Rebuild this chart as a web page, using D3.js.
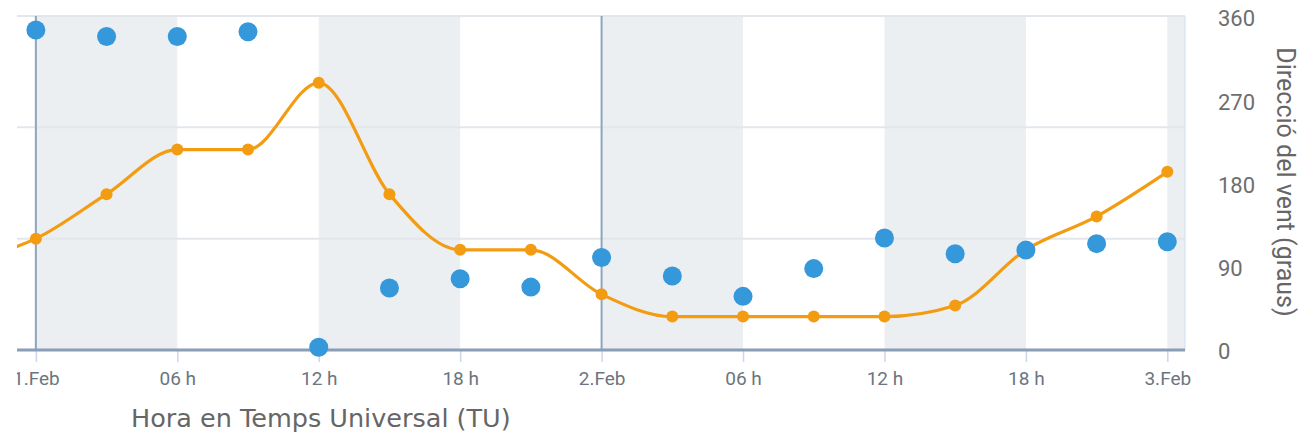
<!DOCTYPE html>
<html>
<head>
<meta charset="utf-8">
<script src="https://cdn.jsdelivr.net/npm/d3@7"></script>
<style>
    body { margin: 0; background: #fff; }
    svg { display: block; }
    .tick-label { font-family: Roboto, sans-serif; font-size: 19px; fill: #6b7580; }
</style>
</head>
<body>
<div id="chart"></div>
<script>
// hores des de l'1 de febrer 00 h (UTC)
const hours = [-3, 0, 3, 6, 9, 12, 15, 18, 21, 24, 27, 30, 33, 36, 39, 42, 45, 48];
// velocitat (eix esquerre ocult, 0-15)
const speed = [4.0, 5, 7, 9, 9, 12, 7, 4.5, 4.5, 2.5, 1.5, 1.5, 1.5, 1.5, 2, 4.5, 6, 8];
// direcció del vent en graus
const direction = [null, 346, 339, 339, 344, 3, 67, 77, 68, 100, 80, 58, 88, 121, 104, 108, 115, 117];
const xTicks = [0, 6, 12, 18, 24, 30, 36, 42, 48];
const xTickLabels = ['1.Feb', '06 h', '12 h', '18 h', '2.Feb', '06 h', '12 h', '18 h', '3.Feb'];
const dirTicks = [0, 90, 180, 270, 360];

const width = 1301, height = 434;
const plotL = 17, plotR = 1185, plotT = 16, plotB = 350;

const svg = d3.select('#chart').append('svg')
    .attr('width', width)
    .attr('height', height);

const x = d3.scaleLinear().domain([-0.8, 48.75]).range([plotL, plotR]);
const ySpeed = d3.scaleLinear().domain([0, 15]).range([plotB, plotT]);
const yDir = d3.scaleLinear().domain([0, 360]).range([plotB, plotT + 1]);

// franges alternes de 6 h
const bands = d3.range(0, 54, 12);
svg.selectAll('rect.band')
    .data(bands)
    .enter()
    .append('rect')
    .attr('x', d => x(d))
    .attr('y', plotT)
    .attr('width', d => Math.min(x(d + 6), plotR) - x(d))
    .attr('height', plotB - plotT)
    .attr('fill', '#ebeff1');

// graella (eix esquerre)
svg.selectAll('line.grid')
    .data([5, 10, 15])
    .enter()
    .append('line')
    .attr('x1', plotL).attr('x2', plotR)
    .attr('y1', d => ySpeed(d)).attr('y2', d => ySpeed(d))
    .attr('stroke', '#e3e7ec')
    .attr('stroke-width', 2);

// línies de canvi de dia
svg.selectAll('line.day')
    .data([0, 24])
    .enter()
    .append('line')
    .attr('x1', d => x(d)).attr('x2', d => x(d))
    .attr('y1', plotT).attr('y2', plotB)
    .attr('stroke', '#8fa4bf')
    .attr('stroke-width', 2);

// eix dret (línia)
svg.append('line')
    .attr('x1', plotR).attr('x2', plotR)
    .attr('y1', plotT).attr('y2', plotB)
    .attr('stroke', '#d4ddf0')
    .attr('stroke-width', 1);

// les etiquetes queden tallades a l'esquerra
svg.append('clipPath').attr('id', 'axis-clip')
    .append('rect')
    .attr('x', plotL).attr('y', 0)
    .attr('width', width - plotL).attr('height', height);

// eix x
const xAxis = svg.append('g')
    .attr('clip-path', 'url(#axis-clip)')
    .append('g')
    .attr('transform', `translate(0,${plotB})`)
    .call(d3.axisBottom(x).tickValues(xTicks).tickSize(12).tickPadding(10)
        .tickFormat((d, i) => xTickLabels[i]));
xAxis.select('.domain').remove();
xAxis.selectAll('.tick line').attr('stroke', '#ccd6eb').attr('stroke-width', 1.5);
xAxis.selectAll('.tick text').attr('class', 'tick-label').attr('dy', '0.71em');
svg.append('line')
    .attr('x1', plotL).attr('x2', plotR)
    .attr('y1', plotB).attr('y2', plotB)
    .attr('stroke', '#8a9eb7')
    .attr('stroke-width', 3);

// eix y dret
const yAxis = svg.append('g')
    .attr('transform', `translate(${plotR},0)`)
    .call(d3.axisRight(yDir).tickValues(dirTicks).tickSize(0).tickPadding(33));
yAxis.select('.domain').remove();
yAxis.selectAll('.tick text')
    .attr('font-family', 'Roboto, sans-serif')
    .attr('font-size', '22px')
    .attr('fill', '#6e6e6e')
    .attr('dy', '0.4em');

// títols
svg.append('text')
    .attr('x', 131)
    .attr('y', 427)
    .attr('font-family', 'DejaVu Sans, sans-serif')
    .attr('font-size', '25.5px')
    .attr('fill', '#666')
    .text('Hora en Temps Universal (TU)');

svg.append('text')
    .attr('transform', `translate(1277,182) rotate(90)`)
    .attr('text-anchor', 'middle')
    .attr('font-family', 'Roboto, sans-serif')
    .attr('font-size', '25px')
    .attr('fill', '#666')
    .text('Direcció del vent (graus)');

// retall de l'àrea del gràfic
svg.append('clipPath').attr('id', 'plot-clip')
    .append('rect')
    .attr('x', plotL).attr('y', 0)
    .attr('width', plotR - plotL).attr('height', plotB + 12);

const plot = svg.append('g').attr('clip-path', 'url(#plot-clip)');

// sèrie de velocitat
const speedData = hours.map((h, i) => ({ h, v: speed[i] }));
const line = d3.line()
    .x(d => x(d.h))
    .y(d => ySpeed(d.v))
    .curve(d3.curveMonotoneX);
plot.append('path')
    .datum(speedData)
    .attr('d', line)
    .attr('fill', 'none')
    .attr('stroke', '#f39c12')
    .attr('stroke-width', 3.2);
plot.selectAll('circle.speed')
    .data(speedData.filter(d => d.h >= 0))
    .enter()
    .append('circle')
    .attr('cx', d => x(d.h))
    .attr('cy', d => ySpeed(d.v))
    .attr('r', 6)
    .attr('fill', '#f39c12');

// sèrie de direcció
const dirData = hours.map((h, i) => ({ h, v: direction[i] })).filter(d => d.v !== null);
plot.selectAll('circle.dir')
    .data(dirData)
    .enter()
    .append('circle')
    .attr('cx', d => x(d.h))
    .attr('cy', d => yDir(d.v))
    .attr('r', 9.5)
    .attr('fill', '#3498db');
</script>
</body>
</html>
